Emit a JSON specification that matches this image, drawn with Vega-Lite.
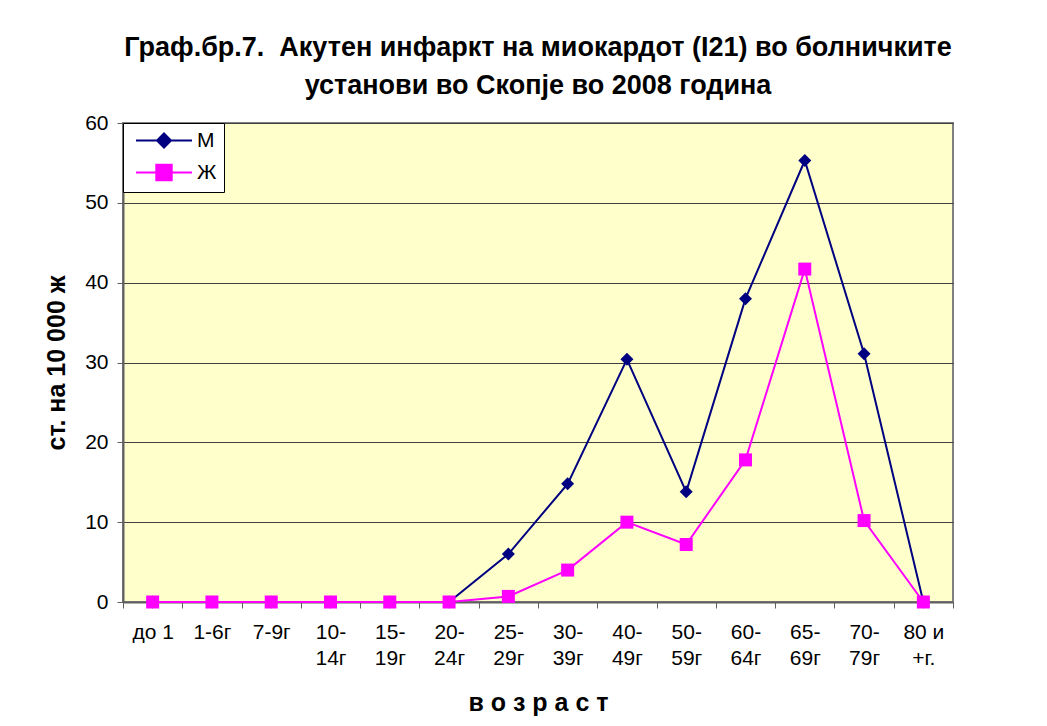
{
  "$schema": "https://vega.github.io/schema/vega-lite/v6.json",
  "autosize": {"type": "none"},
  "width": 830,
  "height": 479,
  "padding": {"left": 123, "top": 123, "right": 94, "bottom": 124},
  "background": "white",
  "title": {
    "text": ["Граф.бр.7.\u00a0 Акутен инфаркт на миокардот (I21) во болничките", "установи во Скопје во 2008 година"],
    "font": "Liberation Sans",
    "fontSize": 27,
    "fontWeight": "bold",
    "color": "black",
    "lineHeight": 38,
    "anchor": "middle",
    "offset": 12
  },
  "config": {
    "view": {"fill": "#FFFFCC", "stroke": "#808080", "strokeWidth": 2},
    "font": "Liberation Sans",
    "axis": {"labelFont": "Liberation Sans", "titleFont": "Liberation Sans", "labelColor": "black", "titleColor": "black"}
  },
  "data": {
    "values": [
      {"age": "до 1", "sex": "М", "value": 0},
      {"age": "1-6г", "sex": "М", "value": 0},
      {"age": "7-9г", "sex": "М", "value": 0},
      {"age": "10-14г", "sex": "М", "value": 0},
      {"age": "15-19г", "sex": "М", "value": 0},
      {"age": "20-24г", "sex": "М", "value": 0},
      {"age": "25-29г", "sex": "М", "value": 6.0},
      {"age": "30-39г", "sex": "М", "value": 14.8},
      {"age": "40-49г", "sex": "М", "value": 30.4},
      {"age": "50-59г", "sex": "М", "value": 13.8},
      {"age": "60-64г", "sex": "М", "value": 38.0},
      {"age": "65-69г", "sex": "М", "value": 55.3},
      {"age": "70-79г", "sex": "М", "value": 31.1},
      {"age": "80 и +г.", "sex": "М", "value": 0},
      {"age": "до 1", "sex": "Ж", "value": 0},
      {"age": "1-6г", "sex": "Ж", "value": 0},
      {"age": "7-9г", "sex": "Ж", "value": 0},
      {"age": "10-14г", "sex": "Ж", "value": 0},
      {"age": "15-19г", "sex": "Ж", "value": 0},
      {"age": "20-24г", "sex": "Ж", "value": 0},
      {"age": "25-29г", "sex": "Ж", "value": 0.7},
      {"age": "30-39г", "sex": "Ж", "value": 4.0},
      {"age": "40-49г", "sex": "Ж", "value": 10.0},
      {"age": "50-59г", "sex": "Ж", "value": 7.2},
      {"age": "60-64г", "sex": "Ж", "value": 17.8},
      {"age": "65-69г", "sex": "Ж", "value": 41.7},
      {"age": "70-79г", "sex": "Ж", "value": 10.2},
      {"age": "80 и +г.", "sex": "Ж", "value": 0}
    ]
  },
  "encoding": {
    "x": {
      "field": "age",
      "type": "nominal",
      "sort": null,
      "scale": {"type": "band", "paddingInner": 0, "paddingOuter": 0},
      "axis": {
        "title": "в о з р а с т",
        "titleFontSize": 25,
        "titleFontWeight": "bold",
        "titlePadding": 22,
        "labelFontSize": 21,
        "labelAngle": 0,
        "labelLineHeight": 26,
        "labelPadding": 13,
        "labelExpr": "datum.label == '80 и +г.' ? ['80 и', '+г.'] : (length(datum.label) > 5 ? [slice(datum.label, 0, 3), slice(datum.label, 3)] : datum.label)",
        "tickSize": 6,
        "tickBand": "extent",
        "tickColor": "#606060",
        "domainColor": "#606060",
        "domainWidth": 2,
        "grid": false
      }
    },
    "y": {
      "field": "value",
      "type": "quantitative",
      "scale": {"domain": [0, 60], "nice": false},
      "axis": {
        "title": "ст. на 10 000 ж",
        "titleFontSize": 25,
        "titleFontWeight": "bold",
        "titlePadding": 15,
        "values": [0, 10, 20, 30, 40, 50, 60],
        "labelFontSize": 21,
        "labelPadding": 9,
        "tickSize": 6,
        "tickColor": "#606060",
        "domainColor": "#606060",
        "domainWidth": 2,
        "grid": true,
        "gridColor": "#404040",
        "gridWidth": 1
      }
    },
    "color": {
      "field": "sex",
      "type": "nominal",
      "scale": {"domain": ["М", "Ж"], "range": ["#000080", "#FF00FF"]},
      "legend": {
        "orient": "top-left",
        "offset": 0,
        "title": null,
        "fillColor": "white",
        "strokeColor": "black",
        "padding": 7,
        "symbolSize": 196,
        "symbolOffset": 23.5,
        "labelOffset": 22.5,
        "labelFontSize": 21,
        "labelFont": "Liberation Sans",
        "labelColor": "black",
        "rowPadding": 8,
        "symbolStrokeWidth": 2,
        "encode": {
          "symbols": {
            "update": {
              "shape": {"signal": "datum.value === 'М' ? 'M-4,0L4,0M0,-1L1,0L0,1L-1,0Z' : 'M-4,0L4,0M-1.1,-1.1L1.1,-1.1L1.1,1.1L-1.1,1.1Z'"},
              "fill": {"signal": "datum.value === 'М' ? '#000080' : '#FF00FF'"},
              "stroke": {"signal": "datum.value === 'М' ? '#000080' : '#FF00FF'"},
              "strokeWidth": {"value": 2},
              "opacity": {"value": 1},
              "fillOpacity": {"value": 1}
            }
          }
        }
      }
    }
  },
  "layer": [
    {
      "mark": {"type": "line", "strokeWidth": 2},
      "encoding": {"detail": {"field": "sex"}}
    },
    {
      "transform": [{"filter": "datum.sex === 'М'"}],
      "mark": {"type": "point", "filled": true, "opacity": 1, "size": 169, "shape": "diamond"}
    },
    {
      "transform": [{"filter": "datum.sex === 'Ж'"}],
      "mark": {"type": "point", "filled": true, "opacity": 1, "size": 169, "shape": "square"}
    }
  ]
}
